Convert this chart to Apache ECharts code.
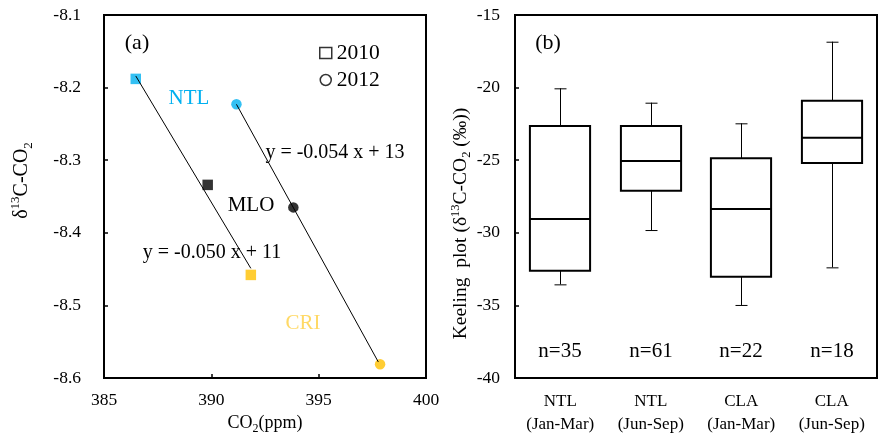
<!DOCTYPE html>
<html>
<head>
<meta charset="utf-8">
<script src="https://cdn.jsdelivr.net/npm/echarts@6/dist/echarts.min.js"></script>
<style>
html,body{margin:0;padding:0;background:#fff;}
#chart{width:888px;height:442px;}
</style>
</head>
<body>
<div id="chart"></div>
<script>
// ---------- Panel (a) data ----------
const sites = ['NTL', 'MLO', 'CRI'];
const co2_2010 = [386.48, 389.83, 391.84];
const d13c_2010 = [-8.188, -8.334, -8.458];
const co2_2012 = [391.17, 393.82, 397.86];
const d13c_2012 = [-8.223, -8.365, -8.581];
// fitted line end points as drawn
const fitX_2010 = [386.48, 391.84];
const fitY_2010 = [-8.184, -8.449];
const fitX_2012 = [391.17, 397.78];
const fitY_2012 = [-8.223, -8.578];
const xTicksA = [385, 390, 395, 400];
const yTicksA = [-8.6, -8.5, -8.4, -8.3, -8.2, -8.1];

// ---------- Panel (b) data ----------
const boxCategories = ['NTL\n(Jan-Mar)', 'NTL\n(Jun-Sep)', 'CLA\n(Jan-Mar)', 'CLA\n(Jun-Sep)'];
const boxMin    = [-33.55, -29.81, -34.97, -32.38];
const boxQ1     = [-32.61, -27.10, -33.02, -25.19];
const boxMedian = [-29.05, -25.05, -28.36, -23.45];
const boxQ3     = [-22.64, -22.64, -24.87, -20.90];
const boxMax    = [-20.05, -21.04, -22.46, -16.84];
const nCounts   = [35, 61, 22, 18];
const yTicksB = [-40, -35, -30, -25, -20, -15];

// ---------- styles ----------
const FONT = '"Liberation Serif", "Times New Roman", serif';
const siteColors = ['#00B0F0', '#000000', '#FFC000'];
const siteTextColors = ['#00B0F0', '#000000', '#FFD966'];

const chart = echarts.init(document.getElementById('chart'), null, {renderer: 'canvas'});

const pts2010 = co2_2010.map((x, i) => ({value: [x, d13c_2010[i]], itemStyle: {color: siteColors[i]}}));
const pts2012 = co2_2012.map((x, i) => ({value: [x, d13c_2012[i]], itemStyle: {color: siteColors[i]}}));
const boxRows = boxCategories.map((c, i) => [i, boxMin[i], boxQ1[i], boxMedian[i], boxQ3[i], boxMax[i], nCounts[i]]);

function txt(x, y, text, size, color) {
  return {type: 'text', x: x, y: y, z: 100,
    style: {text: text, fill: color || '#000', font: size + 'px ' + FONT, align: 'center', verticalAlign: 'middle'}};
}

const richBase = {
  n: {fontFamily: FONT, fontSize: 18, color: '#000', lineHeight: 24},
  s: {fontFamily: FONT, fontSize: 12, color: '#000', lineHeight: 12, verticalAlign: 'bottom'},
  u: {fontFamily: FONT, fontSize: 12, color: '#000', lineHeight: 12, verticalAlign: 'top'}
};
const richY = {
  n: {fontFamily: FONT, fontSize: 20, color: '#000', lineHeight: 26},
  s: {fontFamily: FONT, fontSize: 13, color: '#000', lineHeight: 13, verticalAlign: 'bottom'},
  u: {fontFamily: FONT, fontSize: 13, color: '#000', lineHeight: 13, verticalAlign: 'top'}
};
const richB = {
  n: {fontFamily: FONT, fontSize: 19.5, color: '#000', lineHeight: 24},
  s: {fontFamily: FONT, fontSize: 12.5, color: '#000', lineHeight: 12, verticalAlign: 'bottom'},
  u: {fontFamily: FONT, fontSize: 12.5, color: '#000', lineHeight: 12, verticalAlign: 'top'}
};

const axisLineStyle = {show: true, lineStyle: {color: '#000', width: 2}};
const labelStyle = {color: '#000', fontFamily: FONT, fontSize: 17.5};

const option = {
  backgroundColor: '#fff',
  animation: false,
  grid: [
    {left: 104, top: 15, width: 322, height: 363, show: true, borderColor: '#000', borderWidth: 2, backgroundColor: 'transparent'},
    {left: 515, top: 15, width: 362, height: 363, show: true, borderColor: '#000', borderWidth: 2, backgroundColor: 'transparent'}
  ],
  legend: {
    orient: 'vertical', left: 314, top: 37, itemWidth: 12, itemHeight: 11, itemGap: 5, itemTextGap: 13,
    textStyle: {color: '#000', fontFamily: FONT, fontSize: 21.5},
    data: [
      {name: '2010', icon: 'rect', itemStyle: {color: '#fff', borderColor: '#000', borderWidth: 1.5}},
      {name: '2012', icon: 'circle', itemStyle: {color: '#fff', borderColor: '#000', borderWidth: 1.5}}
    ]
  },
  xAxis: [
    {gridIndex: 0, type: 'value', min: xTicksA[0], max: xTicksA[xTicksA.length - 1], interval: 5,
      axisLine: axisLineStyle, axisTick: {show: true, inside: true, length: 4, lineStyle: {color: '#000', width: 1.5}},
      axisLabel: Object.assign({margin: 13}, labelStyle), splitLine: {show: false},
      name: '{n|CO}{s|2}{n|(ppm)}', nameLocation: 'middle', nameGap: 30,
      nameTextStyle: {rich: richBase}},
    {gridIndex: 1, type: 'category', data: boxCategories, boundaryGap: true,
      axisLine: axisLineStyle, axisTick: {show: false},
      axisLabel: {color: '#000', fontFamily: FONT, fontSize: 17, lineHeight: 23, margin: 12},
      splitLine: {show: false}}
  ],
  yAxis: [
    {gridIndex: 0, type: 'value', min: yTicksA[0], max: yTicksA[yTicksA.length - 1], interval: 0.1,
      axisLine: axisLineStyle, axisTick: {show: true, inside: true, length: 4, lineStyle: {color: '#000', width: 1.5}},
      axisLabel: Object.assign({margin: 23, formatter: v => v.toFixed(1)}, labelStyle), splitLine: {show: false},
      name: '{n|δ}{u|13}{n|C-CO}{s|2}', nameLocation: 'middle', nameRotate: 90, nameGap: 69,
      nameTextStyle: {rich: richY, padding: [0, 0, 0, 32]}},
    {gridIndex: 1, type: 'value', min: yTicksB[0], max: yTicksB[yTicksB.length - 1], interval: 5,
      axisLine: axisLineStyle, axisTick: {show: true, inside: true, length: 4, lineStyle: {color: '#000', width: 1.5}},
      axisLabel: Object.assign({margin: 15}, labelStyle), splitLine: {show: false},
      name: '{n|Keeling  plot (δ}{u|13}{n|C-CO}{s|2}{n| (‰))}', nameLocation: 'middle', nameRotate: 90, nameGap: 41,
      nameTextStyle: {rich: richB, padding: [0, 54, 0, 0]}}
  ],
  series: [
    {name: '2010', type: 'scatter', xAxisIndex: 0, yAxisIndex: 0, symbol: 'rect', symbolSize: 10.5, data: pts2010, z: 2},
    {name: '2012', type: 'scatter', xAxisIndex: 0, yAxisIndex: 0, symbol: 'circle', symbolSize: 10.5, data: pts2012, z: 2},
    {name: 'fit2010', type: 'line', xAxisIndex: 0, yAxisIndex: 0, symbol: 'none', z: 3,
      lineStyle: {color: '#000', width: 1}, data: fitX_2010.map((x, i) => [x, fitY_2010[i]])},
    {name: 'fit2012', type: 'line', xAxisIndex: 0, yAxisIndex: 0, symbol: 'none', z: 3,
      lineStyle: {color: '#000', width: 1}, data: fitX_2012.map((x, i) => [x, fitY_2012[i]])},
    {name: 'box', type: 'custom', xAxisIndex: 1, yAxisIndex: 1, data: boxRows,
      encode: {x: 0, y: [1, 2, 3, 4, 5]},
      renderItem: function (params, api) {
        const i = api.value(0);
        const cx = Math.round(api.coord([i, 0])[0]);
        const yMin = api.coord([i, api.value(1)])[1];
        const yQ1 = api.coord([i, api.value(2)])[1];
        const yMed = api.coord([i, api.value(3)])[1];
        const yQ3 = api.coord([i, api.value(4)])[1];
        const yMax = api.coord([i, api.value(5)])[1];
        const yN = api.coord([i, -38.2])[1];
        const bw = api.size([1, 0])[0] * 0.665;
        const cap = 11;
        const thin = {stroke: '#000', lineWidth: 1};
        return {type: 'group', children: [
          {type: 'line', shape: {x1: cx + 0.5, y1: yQ3, x2: cx + 0.5, y2: yMax}, style: thin},
          {type: 'line', shape: {x1: cx - cap / 2, y1: yMax + 0.5, x2: cx + cap / 2 + 1, y2: yMax + 0.5}, style: thin},
          {type: 'line', shape: {x1: cx + 0.5, y1: yQ1, x2: cx + 0.5, y2: yMin}, style: thin},
          {type: 'line', shape: {x1: cx - cap / 2, y1: yMin + 0.5, x2: cx + cap / 2 + 1, y2: yMin + 0.5}, style: thin},
          {type: 'rect', shape: {x: cx - bw / 2, y: yQ3, width: bw, height: yQ1 - yQ3},
            style: {fill: '#fff', stroke: '#000', lineWidth: 2}},
          {type: 'line', shape: {x1: cx - bw / 2, y1: yMed, x2: cx + bw / 2, y2: yMed},
            style: {stroke: '#000', lineWidth: 2}},
          {type: 'text', x: cx, y: yN, style: {text: 'n=' + api.value(6), fill: '#000',
            font: '21px ' + FONT, align: 'center', verticalAlign: 'middle'}}
        ]};
      }
    }
  ],
  graphic: [
    txt(137, 43, '(a)', 22),
    txt(548, 43, '(b)', 22),
    txt(189, 98, sites[0], 21, siteTextColors[0]),
    txt(251, 205, sites[1], 21, siteTextColors[1]),
    txt(303, 323, sites[2], 21, siteTextColors[2]),
    txt(335, 153, 'y = -0.054 x + 13', 20),
    txt(212, 253, 'y = -0.050 x + 11', 20)
  ]
};
chart.setOption(option);
</script>
</body>
</html>
